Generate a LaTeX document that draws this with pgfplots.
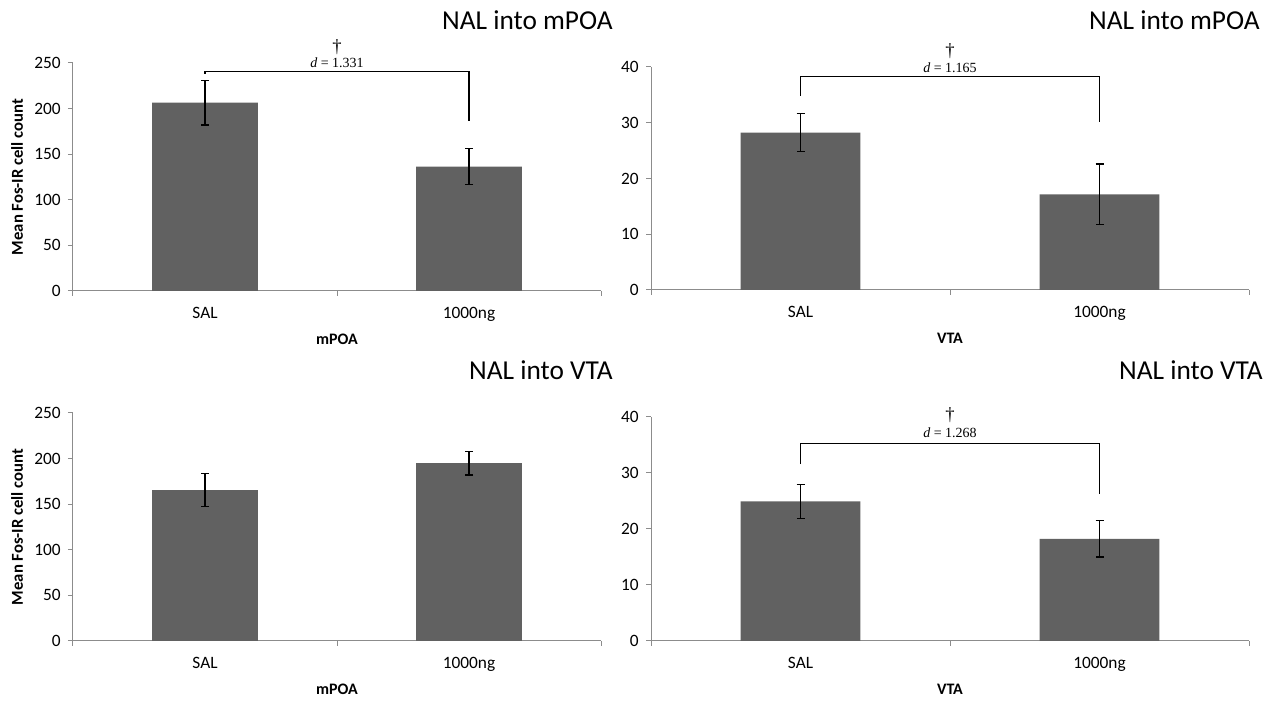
\documentclass[border=0pt]{standalone}
\usepackage{fontspec}
\setmainfont{Carlito}
\newfontfamily\tnr{Liberation Serif}
\usepackage{pgfplots}
\pgfplotsset{compat=1.18}
\definecolor{barc}{HTML}{616161}
\definecolor{axc}{HTML}{8C8C8C}
\pgfplotsset{
  mybar/.style={
    scale only axis, clip=false, ybar,
    axis x line*=bottom, axis y line*=left,
    axis line style={-, axc, line width=0.75pt},
    tick style={axc, line width=0.75pt},
    tick align=outside, major tick length=3.75pt,
    xmin=-0.5, xmax=1.5, ymin=0,
    xtick={-0.5,0.5,1.5}, xticklabels={},
    extra x ticks={0,1}, extra x tick labels={SAL,1000ng},
    extra x tick style={major tick length=0pt, xticklabel style={anchor=base, yshift=-21pt}},
    /pgf/number format/assume math mode=true,
    ticklabel style={font=\fontsize{13}{15}\selectfont, text=black},
    yticklabel style={xshift=-2pt},
    xlabel style={font=\bfseries\fontsize{12}{14}\selectfont, at={(axis description cs:0.5,0)}, anchor=center, yshift=-36pt},
    ylabel style={font=\bfseries\fontsize{12.5}{14}\selectfont},
  },
  errb/.style={bar width=0.4, fill=barc, draw=none,
    error bars/.cd, y dir=both, y explicit,
    error bar style={black, line width=1pt},
    error mark options={black, rotate=90, mark size=3pt, line width=1pt}},
}
\begin{document}
\begin{tikzpicture}[x=0.75pt,y=0.75pt]
\useasboundingbox (0,0) rectangle (1275,703);

% Top-left
\begin{axis}[mybar, at={(54.75pt,309pt)}, anchor=south west, width=396pt, height=171pt,
  ymax=250, ytick={0,50,100,150,200,250}, xlabel={mPOA}, ylabel={Mean Fos-IR cell count},
  ylabel style={at={(axis description cs:-0.106,0.5)}, anchor=center}]
\addplot[errb] coordinates {(0,206.5) +- (0,24.5) (1,136.5) +- (0,19.5)};
\draw[black, line width=0.9pt] (axis cs:0,238) |- (axis cs:1,241) -- (axis cs:1,186);
\node[font=\tnr\fontsize{10.5}{12}\selectfont] at (axis cs:0.5,250) {\textit{d} = 1.331};
\node[font=\tnr\fontsize{14}{15}\selectfont] at (axis cs:0.5,267.5) {†};
\end{axis}

% Top-right
\begin{axis}[mybar, at={(488.25pt,309.75pt)}, anchor=south west, width=448.5pt, height=167.25pt,
  ymax=40, ytick={0,10,20,30,40}, xlabel={VTA}]
\addplot[errb] coordinates {(0,28.25) +- (0,3.35) (1,17.15) +- (0,5.45)};
\draw[black, line width=0.9pt] (axis cs:0,34.8) |- (axis cs:1,38.3) -- (axis cs:1,30.1);
\node[font=\tnr\fontsize{10.5}{12}\selectfont] at (axis cs:0.5,39.8) {\textit{d} = 1.165};
\node[font=\tnr\fontsize{14}{15}\selectfont] at (axis cs:0.5,42.9) {†};
\end{axis}

% Bottom-left
\begin{axis}[mybar, at={(54.75pt,46.5pt)}, anchor=south west, width=396pt, height=171pt,
  ymax=250, ytick={0,50,100,150,200,250}, xlabel={mPOA}, ylabel={Mean Fos-IR cell count},
  ylabel style={at={(axis description cs:-0.106,0.5)}, anchor=center}]
\addplot[errb] coordinates {(0,165.5) +- (0,18) (1,195) +- (0,13)};
\end{axis}

% Bottom-right
\begin{axis}[mybar, at={(488.25pt,46.5pt)}, anchor=south west, width=448.5pt, height=168pt,
  ymax=40, ytick={0,10,20,30,40}, xlabel={VTA}]
\addplot[errb] coordinates {(0,24.95) +- (0,3.05) (1,18.25) +- (0,3.25)};
\draw[black, line width=0.9pt] (axis cs:0,31.6) |- (axis cs:1,35.2) -- (axis cs:1,26.25);
\node[font=\tnr\fontsize{10.5}{12}\selectfont] at (axis cs:0.5,37.1) {\textit{d} = 1.268};
\node[font=\tnr\fontsize{14}{15}\selectfont] at (axis cs:0.5,40.4) {†};
\end{axis}

% Titles
\node[anchor=base east, font=\fontsize{20.5}{24}\selectfont, inner sep=0pt] at (613,673) {NAL into mPOA};
\node[anchor=base east, font=\fontsize{20.5}{24}\selectfont, inner sep=0pt] at (1260,673) {NAL into mPOA};
\node[anchor=base east, font=\fontsize{20.5}{24}\selectfont, inner sep=0pt] at (613,323) {NAL into VTA};
\node[anchor=base east, font=\fontsize{20.5}{24}\selectfont, inner sep=0pt] at (1263,323) {NAL into VTA};
\end{tikzpicture}
\end{document}
